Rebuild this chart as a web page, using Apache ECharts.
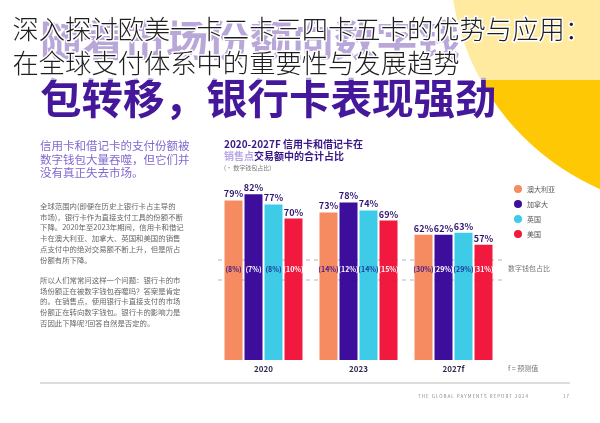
<!DOCTYPE html>
<html><head><meta charset="utf-8">
<script src="https://cdn.jsdelivr.net/npm/echarts@6/dist/echarts.min.js"></script>
<style>html,body{margin:0;padding:0;background:#fff}#c{width:600px;height:423px}</style>
</head><body><div id="c"></div>
<script>
const categories = ['2020', '2023', '2027f'];
const countries = ['澳大利亚', '加拿大', '英国', '美国'];
const cardShare = {
  '澳大利亚': [79, 73, 62],
  '加拿大': [82, 78, 62],
  '英国': [77, 74, 63],
  '美国': [70, 69, 57]
};
const walletShare = {
  '澳大利亚': [8, 14, 30],
  '加拿大': [7, 12, 29],
  '英国': [8, 14, 29],
  '美国': [10, 15, 31]
};
const colors = ['#F68A60', '#3D0E9C', '#3ECBE8', '#F2193F'];
const walletTextColors = ['#3B1A8F', '#ffffff', '#1D3A96', '#ffffff'];
const titleLine1 = '深入探讨欧美一卡二卡三四卡五卡的优势与应用：';
const titleLine2 = '在全球支付体系中的重要性与发展趋势';
const headLine1 = '随着市场份额向数字钱';
const headLine2 = '包转移，银行卡表现强劲';
const leadText = ['信用卡和借记卡的支付份额被', '数字钱包大量吞噬，但它们并', '没有真正失去市场。'];
const para1 = ['全球范围内(即便在历史上银行卡占主导的', '市场)，银行卡作为直接支付工具的份额不断', '下降。2020年至2023年期间，信用卡和借记', '卡在澳大利亚、加拿大、英国和美国的销售', '点支付中的绝对交易额不断上升，但是所占', '份额有所下降。'];
const para2 = ['所以人们常常问这样一个问题：银行卡的市', '场份额正在被数字钱包吞噬吗？答案是肯定', '的。在销售点，使用银行卡直接支付的市场', '份额正在转向数字钱包。银行卡的影响力是', '否因此下降呢?回答自然是否定的。'];

const chart = echarts.init(document.getElementById('c'), null, {renderer: 'canvas'});
const FONT = '"Noto Sans CJK SC", "Noto Sans", sans-serif';

const series = [];
countries.forEach((c, i) => {
  series.push({
    name: c, type: 'bar', data: cardShare[c], barWidth: 18, barGap: '11.1%',
    itemStyle: {color: colors[i]},
    label: {show: true, position: 'top', distance: 2, formatter: '{c}%',
      color: '#2E1470', fontSize: 9, fontWeight: 'bold', fontFamily: FONT}
  });
});
countries.forEach((c, i) => {
  series.push({
    type: 'custom', name: c + '-wallet', silent: true, z: 5,
    data: walletShare[c].map((v, k) => [k, v]),
    encode: {x: 0, y: 1},
    renderItem: function (params, api) {
      const base = api.coord([api.value(0), 0]);
      return {
        type: 'text',
        style: {
          text: '(' + api.value(1) + '%)',
          x: base[0] - 30 + 20 * i, y: base[1] - 91,
          align: 'center', verticalAlign: 'middle',
          fill: walletTextColors[i], font: 'bold 7px ' + FONT
        }
      };
    }
  });
});

const graphics = [
  {type: 'circle', shape: {cx: 700, cy: -40, r: 250}, style: {fill: '#FFC805'}, z: 0, silent: true},
  {type: 'text', left: 40, top: 19, z: 1, style: {text: headLine1, fill: '#4A1A9E', font: 'bold 42px ' + FONT}},
  {type: 'text', left: 40, top: 77, z: 1, style: {text: headLine2, fill: '#45179A', font: 'bold 41.5px ' + FONT}},
  {type: 'rect', shape: {x: 0, y: 0, width: 600, height: 80}, style: {fill: 'rgba(255,255,255,0.62)'}, z: 2, silent: true},
  {type: 'text', left: 11, top: 14, z: 3, style: {text: titleLine1, fill: '#1e1e1e', stroke: '#ffffff', lineWidth: 3, font: '300 26.3px ' + FONT}},
  {type: 'text', left: 11, top: 48, z: 3, style: {text: titleLine2, fill: '#1e1e1e', stroke: '#ffffff', lineWidth: 3, font: '300 26.3px ' + FONT}},
  {type: 'text', left: 40, top: 139, z: 3, style: {text: leadText.join('\n'), fill: '#8468CF', font: '11.5px ' + FONT, lineHeight: 13.5}},
  {type: 'text', left: 40, top: 200.5, z: 3, style: {text: para1.join('\n'), fill: '#666', font: '7.4px ' + FONT, lineHeight: 10.8}},
  {type: 'text', left: 40, top: 274.5, z: 3, style: {text: para2.join('\n'), fill: '#666', font: '7.4px ' + FONT, lineHeight: 10.8}},
  {type: 'text', left: 224, top: 139, z: 3, style: {
    text: '{a|2020-2027F 信用卡和借记卡在}\n{f|销售点}{a|交易额中的合计占比}',
    rich: {a: {fill: '#3A1788', font: 'bold 10px ' + FONT, lineHeight: 12.5}, f: {fill: '#B7A6E2', font: 'bold 10px ' + FONT, lineHeight: 12.5}}}},
  {type: 'text', left: 224, top: 165, z: 3, style: {text: '(• 数字钱包占比)', fill: '#777', font: '6px ' + FONT}},
  {type: 'line', shape: {x1: 218, y1: 260, x2: 504, y2: 260}, style: {stroke: '#b8b8b8', lineWidth: 1, lineDash: [4, 4]}, z: 1},
  {type: 'line', shape: {x1: 218, y1: 280, x2: 504, y2: 280}, style: {stroke: '#b8b8b8', lineWidth: 1, lineDash: [4, 4]}, z: 1},
  {type: 'text', left: 508, top: 265, z: 3, style: {text: '数字钱包占比', fill: '#777', font: '7px ' + FONT}},
  {type: 'text', left: 508, top: 365, z: 3, style: {text: 'f = 预测值', fill: '#777', font: '7px ' + FONT}},
  {type: 'line', shape: {x1: 40, y1: 383, x2: 570, y2: 383}, style: {stroke: '#d2d2d2', lineWidth: 1.5}, z: 1},
  {type: 'text', left: 418, top: 394, z: 3, style: {text: 'T H E   G L O B A L   P A Y M E N T S   R E P O R T   2 0 2 4', fill: '#888', font: '4.5px ' + FONT}},
  {type: 'text', left: 563, top: 394, z: 3, style: {text: '1 7', fill: '#888', font: '4.5px ' + FONT}}
];

chart.setOption({
  backgroundColor: '#ffffff',
  animation: false,
  textStyle: {fontFamily: FONT},
  grid: {left: 216, right: 99, top: 158, bottom: 63},
  legend: {
    data: countries, orient: 'vertical', left: 509, top: 180, icon: 'circle',
    itemWidth: 8, itemHeight: 8, itemGap: 7,
    textStyle: {fontSize: 7, color: '#555', fontFamily: FONT}
  },
  xAxis: {
    type: 'category', data: categories,
    axisLine: {show: false}, axisTick: {show: false},
    axisLabel: {margin: 5, fontSize: 8, fontWeight: 'bold', color: '#2E2A4A', fontFamily: FONT}
  },
  yAxis: {type: 'value', min: 0, max: 100, show: false, splitLine: {show: false}},
  series: series,
  graphic: graphics
});
</script></body></html>
